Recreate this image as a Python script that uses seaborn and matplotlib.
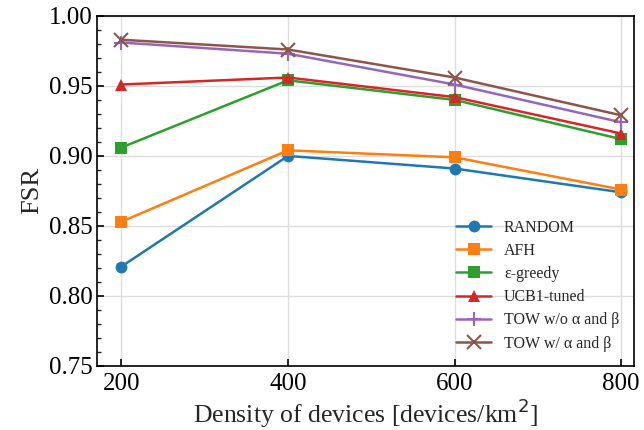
import matplotlib
matplotlib.use("Agg")
import matplotlib.pyplot as plt
import seaborn as sns
import pandas as pd
from matplotlib.ticker import MultipleLocator

density = [200, 400, 600, 800]
labels = ["RANDOM", "AFH", "ε-greedy", "UCB1-tuned", "TOW w/o α and β", "TOW w/ α and β"]
random_v = [0.821, 0.900, 0.891, 0.874]
afh_v = [0.853, 0.904, 0.899, 0.876]
egreedy_v = [0.906, 0.954, 0.940, 0.912]
ucb_v = [0.951, 0.956, 0.942, 0.916]
tow_wo_v = [0.981, 0.973, 0.951, 0.924]
tow_w_v = [0.983, 0.976, 0.956, 0.929]
series = [random_v, afh_v, egreedy_v, ucb_v, tow_wo_v, tow_w_v]
markers = ["o", "s", "s", "^", "+", "x"]

sns.set_theme(style="white")
plt.rcParams["font.family"] = ["Liberation Serif", "DejaVu Serif"]

fig, ax = plt.subplots(figsize=(6.44, 4.30), dpi=100)
fig.subplots_adjust(left=0.151, right=0.984, top=0.963, bottom=0.149)

palette = sns.color_palette("tab10")
for i, (lab, vals) in enumerate(zip(labels, series)):
    df = pd.DataFrame({"x": density, "y": vals})
    cross = markers[i] in ("+", "x")
    sns.lineplot(data=df, x="x", y="y", ax=ax, color=palette[i], marker=markers[i],
                 markersize=10 if cross else 8.5,
                 markeredgewidth=1.5 if cross else 0,
                 markeredgecolor=palette[i],
                 linewidth=1.8, label=lab)

ax.set_xlim(171, 815)
ax.set_ylim(0.75, 1.00)
ax.set_xticks(density)
ax.yaxis.set_major_locator(MultipleLocator(0.05))
ax.yaxis.set_minor_locator(MultipleLocator(0.01))
ax.yaxis.set_major_formatter(matplotlib.ticker.FormatStrFormatter("%.2f"))
ax.tick_params(axis="both", which="major", direction="in", length=5, width=1.2,
               labelsize=18, left=True, bottom=True, colors="black")
ax.tick_params(axis="x", which="major", pad=5)
ax.tick_params(axis="y", which="minor", direction="in", length=3, width=1, left=True)
ax.grid(True, color="#dddddd", linewidth=1)
for s in ax.spines.values():
    s.set_color("black")
    s.set_linewidth(1.2)

ax.set_xlabel("Density of devices [devices/km$^2$]", fontsize=18.5, labelpad=1)
ax.set_ylabel("FSR", fontsize=19)

leg = ax.legend(loc="lower right", frameon=False, fontsize=11.5, handlelength=2.2,
                labelspacing=0.45, bbox_to_anchor=(1.0, 0.0))

fig.savefig("out.png", dpi=100)
